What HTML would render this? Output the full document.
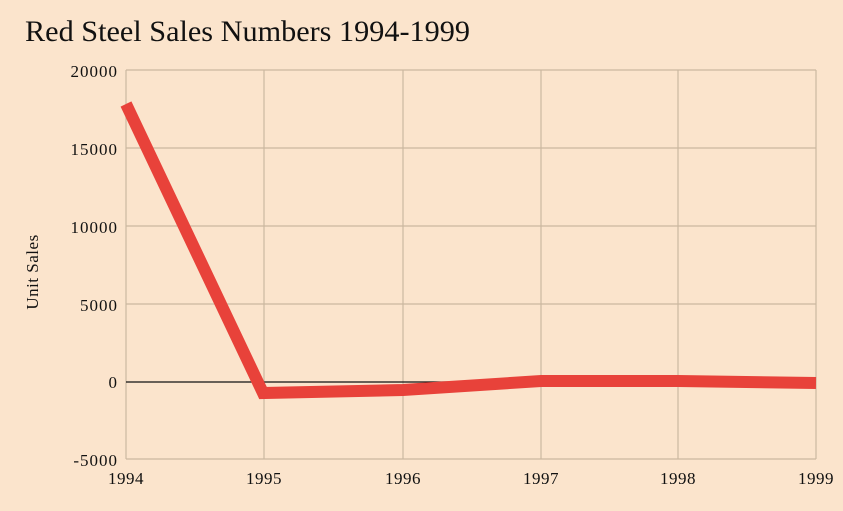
<!DOCTYPE html>
<html><head><meta charset="utf-8"><style>
body{margin:0;background:#fbe4cc;}
svg{display:block;font-family:"Liberation Serif",serif;}
</style></head><body>
<svg width="843" height="511" xmlns="http://www.w3.org/2000/svg">
<rect width="843" height="511" fill="#fbe4cc"/>
<text x="25" y="41" font-size="30" fill="#111" textLength="445" lengthAdjust="spacingAndGlyphs">Red Steel Sales Numbers 1994-1999</text>
<g stroke="#cbb8a0" stroke-width="1.2" fill="none">
<line x1="126" y1="70" x2="816" y2="70"/>
<line x1="126" y1="148" x2="816" y2="148"/>
<line x1="126" y1="226" x2="816" y2="226"/>
<line x1="126" y1="304" x2="816" y2="304"/>
<line x1="126" y1="459" x2="816" y2="459"/>
<line x1="126" y1="70" x2="126" y2="459"/>
<line x1="264" y1="70" x2="264" y2="459"/>
<line x1="403" y1="70" x2="403" y2="459"/>
<line x1="541" y1="70" x2="541" y2="459"/>
<line x1="678" y1="70" x2="678" y2="459"/>
<line x1="816" y1="70" x2="816" y2="459"/>
</g>
<line x1="126" y1="382" x2="816" y2="382" stroke="#111" stroke-width="1.2"/>
<g font-size="17" fill="#111" text-anchor="end" letter-spacing="1">
<text x="118" y="77">20000</text>
<text x="118" y="155">15000</text>
<text x="118" y="233">10000</text>
<text x="118" y="311">5000</text>
<text x="118" y="388">0</text>
<text x="118" y="466">-5000</text>
</g>
<g font-size="17" fill="#111" text-anchor="middle" letter-spacing="0.5">
<text x="126" y="484">1994</text>
<text x="264" y="484">1995</text>
<text x="403" y="484">1996</text>
<text x="541" y="484">1997</text>
<text x="678" y="484">1998</text>
<text x="816" y="484">1999</text>
</g>
<text transform="translate(38,272) rotate(-90)" font-size="17" fill="#111" text-anchor="middle" letter-spacing="0.5">Unit Sales</text>
<polyline points="126,104 263,393 403,390 541,381 678,381 816,383" fill="none" stroke="#e8423a" stroke-width="12" stroke-linejoin="miter"/>
</svg>
</body></html>
